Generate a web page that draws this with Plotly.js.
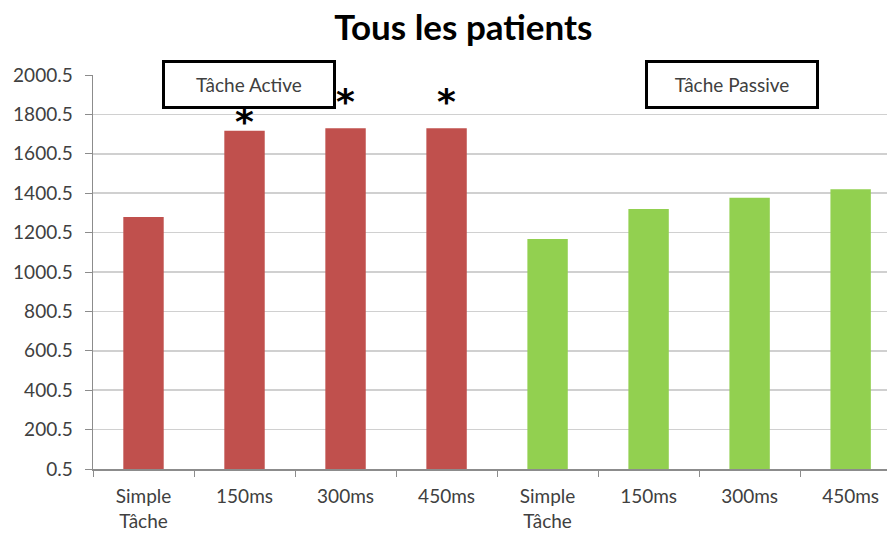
<!DOCTYPE html>
<html>
<head>
<meta charset="utf-8">
<script src="https://cdn.plot.ly/plotly-3.0.1.min.js"></script>
<style>html,body{margin:0;padding:0;background:#fff;}#chart{width:891px;height:534px;}</style>
</head>
<body>
<div id="chart"></div>
<script>
// Data
var activeCategories = ["Simple<br>Tâche", "150ms", "300ms", "450ms"];
var passiveCategories = ["Simple<br>Tâche\u200b", "150ms\u200b", "300ms\u200b", "450ms\u200b"];
var activeValues = [1280, 1718, 1730, 1730];
var passiveValues = [1168, 1320, 1378, 1420];
var yTickValues = [0.5, 200.5, 400.5, 600.5, 800.5, 1000.5, 1200.5, 1400.5, 1600.5, 1800.5, 2000.5];
var starCategories = ["150ms", "300ms", "450ms"];
var starY = [1765, 1865, 1865];

var font = "Lato, 'Open Sans', sans-serif";

var traces = [
  {type: "bar", x: activeCategories, y: activeValues, width: 0.4,
   marker: {color: "#C0504D"}, hoverinfo: "x+y", showlegend: false},
  {type: "bar", x: passiveCategories, y: passiveValues, width: 0.4,
   marker: {color: "#92D050"}, hoverinfo: "x+y", showlegend: false}
];

var annotations = [];
annotations.push({x: 0.197, y: 0.976, xref: "paper", yref: "paper", xanchor: "center", yanchor: "middle",
  text: "Tâche Active", showarrow: false, width: 166, height: 41, bgcolor: "#fff", bordercolor: "#000", borderwidth: 3,
  font: {family: font, size: 19, color: "#404040"}});
annotations.push({x: 0.805, y: 0.976, xref: "paper", yref: "paper", xanchor: "center", yanchor: "middle",
  text: "Tâche Passive", showarrow: false, width: 166, height: 41, bgcolor: "#fff", bordercolor: "#000", borderwidth: 3,
  font: {family: font, size: 19, color: "#404040"}});
for (var i = 0; i < starCategories.length; i++) {
  annotations.push({x: starCategories[i], y: starY[i], xref: "x", yref: "y",
    text: "<b>*</b>", showarrow: false, font: {family: "DejaVu Sans, sans-serif", size: 36, color: "#000"}});
}

var layout = {
  width: 891, height: 534,
  margin: {l: 93, r: 4, t: 75, b: 65},
  paper_bgcolor: "#fff", plot_bgcolor: "#fff",
  barmode: "overlay",
  title: {text: "<b>Tous les patients</b>", x: 0.52, xanchor: "center", y: 0.948, yanchor: "middle",
    font: {family: font, size: 35, color: "#000"}},
  xaxis: {type: "category", range: [-0.5, 7.36], tickson: "boundaries", ticks: "outside", ticklen: 6,
    tickcolor: "#8c8c8c", showline: true, linecolor: "#8c8c8c", linewidth: 1.5, showgrid: false,
    ticklabelstandoff: 10,
    tickfont: {family: font, size: 19, color: "#404040"}, fixedrange: true},
  yaxis: {range: [0.5, 2000.5], tickvals: yTickValues, ticktext: yTickValues.map(function(v){return v.toFixed(1);}),
    ticks: "outside", ticklen: 7, tickcolor: "#8c8c8c", showline: true, linecolor: "#8c8c8c", linewidth: 1.5,
    showgrid: true, gridcolor: "#d0d0d0", gridwidth: 1.5, zeroline: false, ticklabelstandoff: 8,
    tickfont: {family: font, size: 19, color: "#404040"}, fixedrange: true},
  annotations: annotations
};

Plotly.newPlot("chart", traces, layout, {displayModeBar: false, staticPlot: true});
</script>
</body>
</html>
